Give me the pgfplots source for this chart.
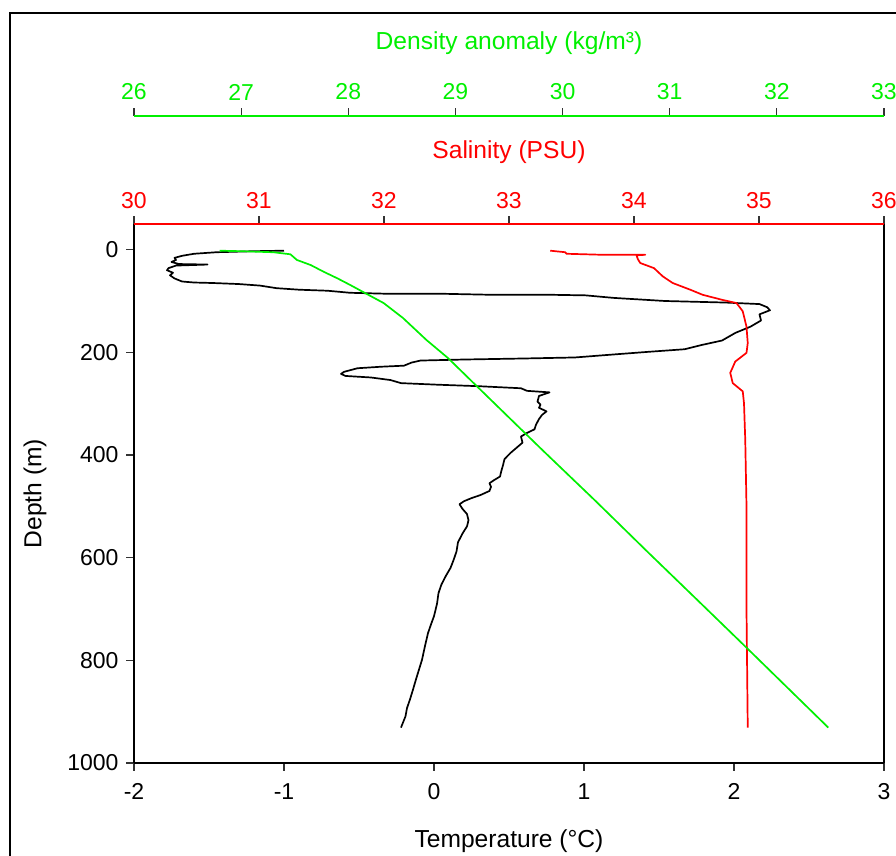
\documentclass[border=0pt]{standalone}
\usepackage{fontspec}
\setmainfont{Liberation Sans}
\usepackage{pgfplots}
\pgfplotsset{compat=1.18}

\definecolor{dgreen}{RGB}{0,240,0}
\definecolor{dred}{RGB}{255,0,0}

\pgfplotsset{
  prof/.style={
    scale only axis, width=375pt, height=269.5pt,
    at={(67pt,46.5pt)}, anchor=south west,
    y dir=reverse, ymin=-50, ymax=1000,
    tick align=outside, major tick length=3.75pt,
    tick style={black!80, line width=0.6pt},
    axis line style={line width=1pt},
    every axis plot/.append style={line width=0.85pt, line join=round},
    /pgf/number format/assume math mode=true,
    label style={font=\fontsize{12.3}{14}\selectfont},
    clip=false,
  }
}

\begin{document}
\fontsize{11.5}{13.8}\selectfont
\begin{tikzpicture}
\useasboundingbox (0,0) rectangle (448pt,428pt);
\draw[line width=1pt] (5pt,-5pt) -- (5pt,421.5pt) -- (460pt,421.5pt);

% temperature
\begin{axis}[prof,
  xmin=-2, xmax=3,
  xtick={-2,-1,0,1,2,3}, xticklabels={-2,-1,0,1,2,3},
  xticklabel style={yshift=-2.5pt},
  ytick={0,200,400,600,800,1000}, yticklabels={0,200,400,600,800,1000},
  axis x line*=bottom, axis y line*=box, ytick pos=left,
  axis line style={black},
  xlabel={Temperature (°C)},
  xlabel style={at={(rel axis cs:0.5,0)}, anchor=center, yshift=-39pt},
  ylabel={Depth (m)},
  ylabel style={at={(rel axis cs:0,0.5)}, anchor=center, yshift=49.5pt},
]
\addplot[black] coordinates {
(-1.00,2) (-1.20,3) (-1.45,5) (-1.60,8) (-1.68,12) (-1.73,16) (-1.72,20)
(-1.75,24) (-1.70,28) (-1.51,29) (-1.72,31) (-1.77,36) (-1.78,40) (-1.74,45)
(-1.76,50) (-1.73,56) (-1.68,62) (-1.60,64) (-1.47,65) (-1.30,67) (-1.16,70)
(-1.05,75) (-0.90,78) (-0.71,80) (-0.56,84) (-0.30,86) (0.07,86) (0.40,88)
(0.80,88) (1.01,89) (1.20,94) (1.54,100) (1.94,103) (2.17,106) (2.22,112)
(2.24,118) (2.17,126) (2.18,138) (2.11,150) (2.01,162) (1.92,177) (1.78,186)
(1.67,194) (1.43,199) (1.16,205) (0.94,210) (0.60,212) (0.20,214) (-0.09,216)
(-0.15,220) (-0.20,226) (-0.35,228) (-0.51,231) (-0.60,238) (-0.62,242)
(-0.59,246) (-0.42,249) (-0.29,254) (-0.22,260) (0.02,263) (0.30,266)
(0.58,270) (0.62,275) (0.77,278) (0.70,285) (0.69,296) (0.71,302) (0.70,308)
(0.75,315) (0.72,322) (0.70,330) (0.68,341) (0.67,350) (0.62,357) (0.58,364)
(0.59,376) (0.55,386) (0.51,396) (0.47,408) (0.46,420) (0.45,430) (0.44,442)
(0.40,449) (0.37,455) (0.38,462) (0.37,470) (0.31,478) (0.25,484) (0.20,490)
(0.17,496) (0.19,505) (0.22,515) (0.23,527) (0.22,539) (0.19,553) (0.16,570)
(0.15,588) (0.13,605) (0.11,620) (0.08,635) (0.05,652) (0.03,669) (0.02,690)
(0.00,714) (-0.02,730) (-0.04,747) (-0.06,772) (-0.08,799) (-0.10,818)
(-0.12,837) (-0.14,857) (-0.16,876) (-0.18,893) (-0.19,909) (-0.22,931)
};
\end{axis}

% salinity
\begin{axis}[prof,
  xmin=30, xmax=36, xtick={30,31,32,33,34,35,36},
  xticklabels={30,31,32,33,34,35,36},
  axis x line*=top, axis y line=none, ytick=\empty,
  axis line style={dred},
  xticklabel style={text=dred},
  xlabel={Salinity (PSU)},
  xlabel style={text=dred, at={(rel axis cs:0.5,1)}, anchor=center, yshift=36pt},
]
\addplot[dred] coordinates {
(33.33,2) (33.45,5) (33.46,8) (33.75,10) (34.09,10) (34.02,11) (34.03,18)
(34.05,26) (34.16,36) (34.23,52) (34.31,65) (34.45,78) (34.55,88) (34.71,98)
(34.82,104) (34.87,120) (34.90,150) (34.91,182) (34.90,201) (34.81,218)
(34.77,240) (34.79,260) (34.87,276) (34.88,299) (34.89,370) (34.90,500)
(34.90,700) (34.91,931)
};
\end{axis}

% density anomaly
\begin{axis}[prof,
  height=323.65pt, ymin=-261, ymax=1000,
  xmin=26, xmax=33, xtick={26,27,28,29,30,31,32,33},
  xticklabels={26,27,28,29,30,31,32,33},
  axis x line*=top, axis y line=none, ytick=\empty,
  axis line style={dgreen},
  xticklabel style={text=dgreen},
  xlabel={Density anomaly (kg/m³)},
  xlabel style={text=dgreen, at={(rel axis cs:0.5,1)}, anchor=center, yshift=36.5pt},
]
\addplot[dgreen] coordinates {
(26.80,2) (27.00,3) (27.30,5) (27.46,9) (27.52,20) (27.65,30) (27.77,43)
(27.90,56) (28.02,69) (28.17,86) (28.33,104) (28.51,133) (28.73,176)
(28.93,211) (29.20,266) (29.81,390) (30.31,490) (30.80,590) (31.32,695)
(31.73,778) (32.48,931)
};
\end{axis}
\end{tikzpicture}
\end{document}
